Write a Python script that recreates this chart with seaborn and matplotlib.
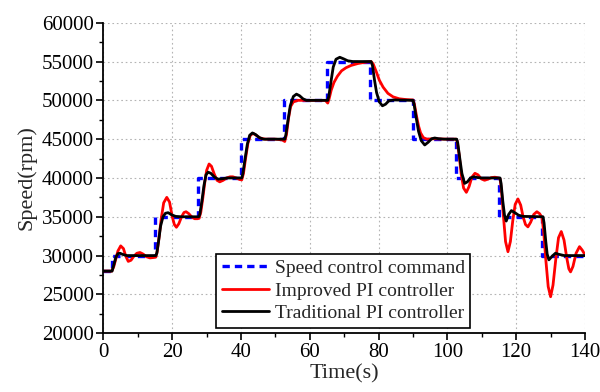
import numpy as np
import pandas as pd
import matplotlib
matplotlib.use("Agg")
import matplotlib.pyplot as plt
import seaborn as sns
from matplotlib.ticker import MultipleLocator

# ---- data ----
cmd_t = [0, 2.5, 15, 27.5, 40, 52.5, 65, 77.5, 90, 102.5, 115, 127.5, 140]
cmd_v = [28000, 30000, 35000, 40000, 45000, 50000, 55000, 50000, 45000, 40000, 35000, 30000, 30000]

red_t = [0, 2.4, 3.0, 3.6, 4.2, 5.0, 5.8, 6.5, 7.2, 8.0, 8.8, 9.7, 10.6, 11.5, 12.5, 13.5, 14.5, 15.2,
         15.6, 16.2, 16.8, 17.5, 18.4, 19.2, 20.0, 20.6, 21.2, 21.9, 22.7, 23.4, 24.0, 24.8, 25.7, 26.5, 27.3, 27.8,
         28.3, 28.9, 29.5, 30.0, 30.7, 31.4, 32.2, 33.0, 33.8, 34.8, 35.8, 36.8, 37.6, 38.6, 39.6, 40.2,
         40.7, 41.3, 42.0, 42.7, 43.5, 44.4, 45.5, 47.0, 50.0, 52.0, 52.7,
         53.2, 53.8, 54.4, 55.2, 56.5, 60.0, 64.5, 65.2,
         65.6, 66.2, 67.0, 68.0, 69.2, 70.5, 72.0, 74.0, 76.0, 77.8,
         78.4, 79.3, 80.2, 81.3, 82.7, 84.2, 86.0, 88.0, 90.0,
         90.4, 91.0, 91.6, 92.2, 93.0, 94.0, 96.0, 100.0, 102.5,
         102.8, 103.4, 104.0, 104.7, 105.5, 106.3, 107.1, 108.0, 108.9, 109.8, 110.8, 111.8, 112.8, 113.8, 114.8, 115.3,
         115.7, 116.3, 116.9, 117.6, 118.3, 119.0, 119.7, 120.5, 121.3, 122.0, 122.7, 123.4, 124.2, 125.1, 126.0, 126.8, 127.5,
         128.0, 128.6, 129.3, 130.0, 130.7, 131.5, 132.3, 133.1, 133.9, 134.7, 135.3, 135.8, 136.5, 137.4, 138.4, 139.2, 140.0]
red_v = [28000, 28000, 28600, 29600, 30600, 31250, 30900, 29900, 29250, 29400, 29900, 30300, 30400, 30200, 29850, 29700, 29750, 29800,
         30500, 32500, 34800, 36800, 37500, 36900, 35000, 34000, 33650, 34100, 35000, 35550, 35650, 35400, 34950, 34750, 34750, 34800,
         35600, 37500, 39600, 41000, 41800, 41500, 40500, 39700, 39500, 39700, 40000, 40150, 40150, 40000, 39800, 39750,
         40600, 42500, 44500, 45500, 45750, 45500, 45150, 45000, 45000, 44900, 44700,
         45600, 47700, 49200, 49800, 50000, 50000, 50000, 49650,
         50200, 51300, 52300, 53100, 53800, 54200, 54500, 54750, 54900, 55000,
         54700, 53700, 52600, 51700, 50900, 50450, 50200, 50100, 50050,
         49500, 48000, 46700, 45800, 45200, 45000, 45050, 45000, 45000,
         44800, 43000, 40500, 38700, 38150, 38900, 40100, 40600, 40400, 39900, 39700, 39850, 40050, 40100, 40000, 39900,
         38500, 35000, 31800, 30500, 31800, 34500, 36600, 37300, 36500, 35000, 34000, 33700, 34300, 35300, 35650, 35400, 34900,
         33000, 29500, 26000, 24700, 26200, 29500, 32300, 33100, 32000, 29700, 28300, 27900, 28600, 30300, 31150, 30700, 30100]

blk_t = [0, 2.5, 3.0, 3.6, 4.2, 4.8, 5.6, 6.8, 15.2,
         15.5, 16.0, 16.6, 17.3, 18.0, 18.8, 19.8, 21.0, 22.5, 27.7,
         28.0, 28.6, 29.2, 29.8, 30.4, 31.2, 32.3, 33.3, 34.5, 36.0, 40.2,
         40.5, 41.1, 41.8, 42.5, 43.3, 44.2, 45.3, 46.5, 52.7,
         53.0, 53.6, 54.3, 55.2, 56.1, 57.0, 58.0, 59.0, 65.2,
         65.5, 66.1, 66.8, 67.6, 68.7, 69.8, 71.0, 72.5, 77.8,
         78.2, 78.8, 79.4, 80.2, 81.1, 82.0, 83.0, 84.5, 90.0,
         90.3, 90.9, 91.6, 92.4, 93.4, 94.4, 95.4, 96.3, 97.5, 99.0, 102.7,
         103.0, 103.6, 104.2, 105.0, 105.8, 106.7, 107.7, 108.8, 110.0, 115.3,
         115.6, 116.1, 116.6, 117.1, 117.8, 118.6, 119.5, 120.7, 122.0, 127.8,
         128.1, 128.6, 129.0, 129.5, 130.4, 131.4, 132.5, 134.0, 140.0]
blk_v = [28000, 28000, 28800, 29800, 30250, 30300, 30150, 30000, 30000,
         30300, 31800, 33800, 35000, 35450, 35530, 35250, 35050, 35000, 35000,
         35300, 37000, 39000, 40400, 40750, 40600, 40100, 39850, 39900, 40000, 40000,
         40500, 42300, 44300, 45500, 45800, 45600, 45200, 45000, 45000,
         45500, 47300, 49300, 50500, 50800, 50600, 50200, 50000, 50000,
         50500, 52300, 54300, 55300, 55550, 55350, 55100, 55000, 55000,
         54500, 52600, 51000, 49800, 49300, 49500, 49950, 50050, 50000,
         49500, 47800, 46000, 44800, 44250, 44600, 45050, 45150, 45050, 45000, 45000,
         44500, 42500, 40600, 39300, 39500, 40000, 40150, 40050, 40000, 40000,
         39300, 37000, 35200, 34450, 35300, 35800, 35550, 35200, 35050, 35000,
         34200, 31800, 30200, 29450, 29900, 30300, 30150, 30000, 30000]

labels = ["Speed control command", "Improved PI controller", "Traditional PI controller"]

# ---- style ----
sns.set_style("ticks")
plt.rcParams['font.family'] = ['Liberation Serif', 'DejaVu Serif']
plt.rcParams['mathtext.fontset'] = 'stix'

fig = plt.figure(figsize=(6.0, 3.92), dpi=100)
ax = fig.add_axes([0.1725, 0.150, 0.8025, 0.792])

df_cmd = pd.DataFrame({"t": cmd_t, "v": cmd_v})
df_red = pd.DataFrame({"t": red_t, "v": red_v})
df_blk = pd.DataFrame({"t": blk_t, "v": blk_v})

sns.lineplot(data=df_cmd, x="t", y="v", ax=ax, color="#0000ff", lw=2.4,
             drawstyle="steps-post", linestyle=(0, (2.2, 1.5)), label=labels[0],
             estimator=None, sort=False)
sns.lineplot(data=df_red, x="t", y="v", ax=ax, color="#ff0000", lw=2.0,
             label=labels[1], estimator=None, sort=False)
sns.lineplot(data=df_blk, x="t", y="v", ax=ax, color="#000000", lw=2.0,
             label=labels[2], estimator=None, sort=False)

ax.set_xlim(0, 140)
ax.set_ylim(20000, 60000)
ax.xaxis.set_major_locator(MultipleLocator(20))
ax.xaxis.set_minor_locator(MultipleLocator(10))
ax.yaxis.set_major_locator(MultipleLocator(5000))
ax.yaxis.set_minor_locator(MultipleLocator(2500))

ax.grid(True, which="major", color="#b4b4b4", linestyle=(0, (1.5, 2.5)), lw=0.8)
ax.set_axisbelow(True)

for s in ["top", "right"]:
    ax.spines[s].set_visible(False)
for s in ["left", "bottom"]:
    ax.spines[s].set_linewidth(1.3)
    ax.spines[s].set_color("black")

ax.tick_params(which="major", direction="out", length=5, width=1.2, labelsize=15, colors="black", pad=2)
ax.tick_params(which="minor", direction="out", length=3, width=1.0, colors="black")

ax.set_xlabel("Time(s)", fontsize=16, labelpad=2)
ax.set_ylabel("Speed(rpm)", fontsize=16, labelpad=4)

leg = ax.legend(loc="lower left", bbox_to_anchor=(0.234, 0.017), borderaxespad=0,
                fontsize=14, frameon=True, fancybox=False, edgecolor="black",
                framealpha=1, handlelength=2.4, handletextpad=0.3,
                borderpad=0.3, labelspacing=0.25)
leg.get_frame().set_linewidth(1.2)

fig.savefig("out.png", dpi=100)
